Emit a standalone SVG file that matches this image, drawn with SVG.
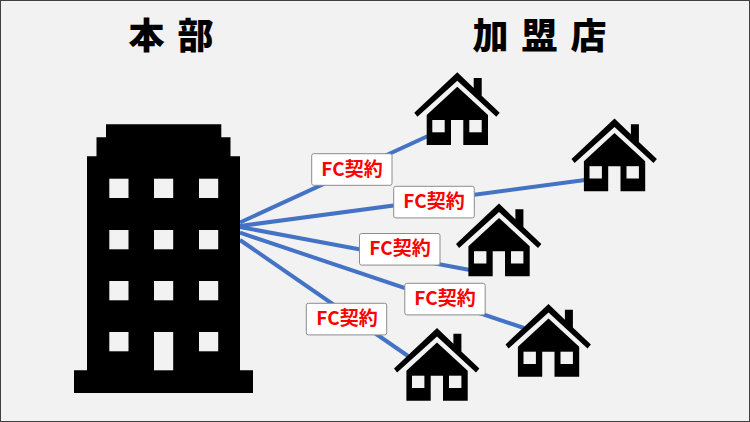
<svg xmlns="http://www.w3.org/2000/svg" width="750" height="422" viewBox="0 0 750 422">
  <style>
    .link { stroke: #4472c4; stroke-width: 4; fill: none; }
    .tag rect { fill: #fff; stroke: #8c8c8c; stroke-width: 1; }
    .tag text { font-family: "Noto Sans CJK JP", sans-serif; font-weight: 700; font-size: 19px; fill: #ff0000; text-anchor: middle; }
    .title { font-family: "Noto Sans CJK JP", sans-serif; font-weight: 900; font-size: 36px; fill: #000; letter-spacing: 13px; }
    .glass { fill: #f2f2f2; }
  </style>
  <defs>
    <!-- House icon, origin at the roof apex -->
    <g id="house">
      <path d="M0 0L16.4 15.8V5.7H24.4V23.5L42.4 40.4L39 44.4L0 8.4L-39.9 44.4L-43 40.4Z" fill="#000"/>
      <path d="M0 14.4L30.7 42.8V72.7H6V47.7H-6.3V72.7H-30.6V42.8Z" fill="#000"/>
      <rect class="glass" x="-25" y="47.7" width="12.4" height="12.3"/>
      <rect class="glass" x="12" y="47.7" width="12.4" height="12.3"/>
    </g>
  </defs>
  <rect width="750" height="422" fill="#f2f2f2"/>
  <rect x="0.5" y="0.5" width="749" height="421" fill="none" stroke="#404040" stroke-width="1"/>

  <g id="connectors">
    <line class="link" x1="240" y1="222.5" x2="428" y2="136"/>
    <line class="link" x1="240" y1="226" x2="585" y2="180"/>
    <line class="link" x1="240" y1="227" x2="470" y2="270"/>
    <line class="link" x1="240" y1="232.7" x2="524" y2="328"/>
    <line class="link" x1="240" y1="240" x2="408" y2="356"/>
  </g>

  <g id="hq">
    <path d="M106 124.3H221.3V137.3H230.5V156.3H240V370.3H253V393H74V370.3H87V156.3H96.5V137.3H106Z" fill="#000"/>
    <g class="glass">
      <rect x="109.3" y="178.7" width="19.2" height="19.3"/>
      <rect x="154" y="178.7" width="19.2" height="19.3"/>
      <rect x="199" y="178.7" width="19.2" height="19.3"/>
      <rect x="109.3" y="230" width="19.2" height="19.3"/>
      <rect x="154" y="230" width="19.2" height="19.3"/>
      <rect x="199" y="230" width="19.2" height="19.3"/>
      <rect x="109.3" y="281" width="19.2" height="19.3"/>
      <rect x="154" y="281" width="19.2" height="19.3"/>
      <rect x="199" y="281" width="19.2" height="19.3"/>
      <rect x="109.3" y="332" width="19.2" height="19.3"/>
      <rect x="154" y="332" width="19.2" height="38.3"/>
      <rect x="199" y="332" width="19.2" height="19.3"/>
    </g>
  </g>

  <g id="store-1"><use href="#house" x="457.3" y="72.3"/></g>
  <g id="store-2"><use href="#house" x="614.5" y="118.5"/></g>
  <g id="store-3"><use href="#house" x="499" y="203.5"/></g>
  <g id="store-4"><use href="#house" x="548.5" y="304"/></g>
  <g id="store-5"><use href="#house" x="437" y="328"/></g>

  <g id="title-hq"><text class="title" x="128.5" y="49">本部</text></g>
  <g id="title-stores"><text class="title" x="472.5" y="49">加盟店</text></g>

  <g id="tag-1" class="tag"><rect x="311.7" y="153.7" width="80.3" height="31.6" rx="2"/><text x="352" y="176">FC契約</text></g>
  <g id="tag-2" class="tag"><rect x="393.7" y="186.3" width="80.6" height="31.6" rx="2"/><text x="434" y="208">FC契約</text></g>
  <g id="tag-3" class="tag"><rect x="359.5" y="233.5" width="80.5" height="31.6" rx="2"/><text x="400" y="255">FC契約</text></g>
  <g id="tag-4" class="tag"><rect x="404.8" y="283.3" width="80.4" height="31.6" rx="2"/><text x="445" y="305">FC契約</text></g>
  <g id="tag-5" class="tag"><rect x="306.3" y="303.3" width="80.4" height="31.6" rx="2"/><text x="347" y="325">FC契約</text></g>
</svg>
